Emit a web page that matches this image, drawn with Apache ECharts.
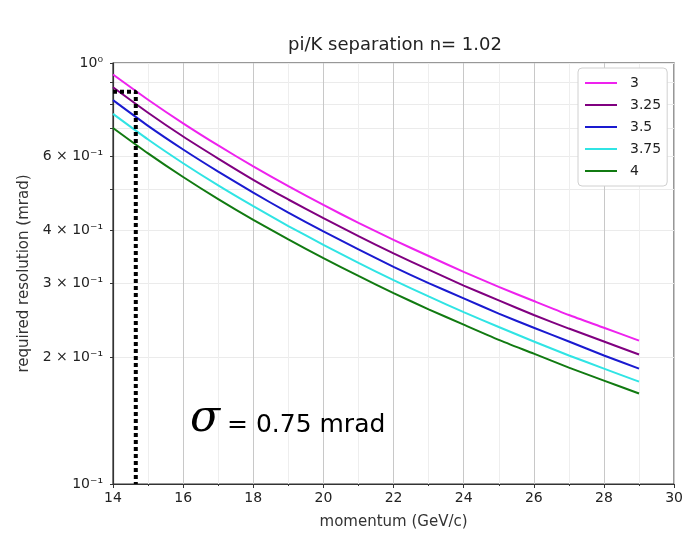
<!DOCTYPE html>
<html>
<head>
<meta charset="utf-8">
<script src="https://cdn.jsdelivr.net/npm/echarts@6/dist/echarts.min.js"></script>
<style>html,body{margin:0;padding:0;background:#fff;}#chart{width:686px;height:535px;}</style>
</head>
<body>
<div id="chart"></div>
<script>
const titleText = 'pi/K separation n= 1.02';
const xName = 'momentum (GeV/c)';
const yName = 'required resolution (mrad)';
const momentum = [14, 15, 16, 17, 18, 19, 20, 21, 22, 23, 24, 25, 26, 27, 28, 29];
const seriesNames = ['3', '3.25', '3.5', '3.75', '4'];
const res3    = [0.939, 0.818, 0.719, 0.637, 0.568, 0.510, 0.460, 0.417, 0.380, 0.348, 0.319, 0.294, 0.272, 0.252, 0.235, 0.219];
const res325  = [0.876, 0.762, 0.669, 0.593, 0.528, 0.474, 0.428, 0.388, 0.353, 0.323, 0.296, 0.273, 0.252, 0.234, 0.218, 0.203];
const res35   = [0.816, 0.709, 0.623, 0.552, 0.492, 0.441, 0.398, 0.361, 0.328, 0.300, 0.276, 0.254, 0.235, 0.218, 0.202, 0.188];
const res375  = [0.757, 0.658, 0.578, 0.512, 0.457, 0.410, 0.370, 0.335, 0.305, 0.279, 0.256, 0.236, 0.218, 0.202, 0.188, 0.175];
const res4    = [0.701, 0.610, 0.536, 0.475, 0.424, 0.381, 0.344, 0.312, 0.284, 0.260, 0.239, 0.220, 0.204, 0.189, 0.176, 0.164];
const dottedX = [14, 14.65, 14.65];
const dottedY = [0.854, 0.854, 0.1];
const yTickValues = [0.1, 0.2, 0.3, 0.4, 0.5, 0.6, 0.7, 0.8, 0.9, 1];
const yLabelValues = [0.1, 0.2, 0.3, 0.4, 0.6, 1];
const yLabelTexts = {1: '10\u207B\u00B9', 2: '2 \u00D7 10\u207B\u00B9', 3: '3 \u00D7 10\u207B\u00B9', 4: '4 \u00D7 10\u207B\u00B9', 6: '6 \u00D7 10\u207B\u00B9', 10: '10\u2070'};
const annotationSigma = '\u03C3';
const annotationRest = '= 0.75 mrad';

const colors = ['#ee22ee', '#800080', '#1a1ad0', '#30e4e4', '#117a11'];
const allRes = [res3, res325, res35, res375, res4];

const chart = echarts.init(document.getElementById('chart'), null, {renderer: 'canvas'});
const FONT = 'DejaVu Sans';

const series = seriesNames.map((name, i) => ({
  name: name,
  type: 'line',
  data: momentum.map((p, j) => [p, allRes[i][j]]),
  showSymbol: false,
  smooth: 0.2,
  lineStyle: {color: colors[i], width: 2},
  itemStyle: {color: colors[i]},
  z: 3
}));
series.push({
  name: 'marker',
  type: 'line',
  data: dottedX.map((x, j) => [x, dottedY[j]]),
  showSymbol: false,
  lineStyle: {color: '#000', width: 4, type: [4, 3]},
  z: 4,
  silent: true
});

chart.setOption({
  animation: false,
  backgroundColor: '#fff',
  textStyle: {fontFamily: FONT},
  grid: {left: 113, right: 9, top: 63, bottom: 50, show: true, borderColor: '#333', borderWidth: 1.2, backgroundColor: 'transparent'},
  legend: {
    data: seriesNames,
    orient: 'vertical',
    left: 578, top: 68,
    padding: [8, 6, 8, 7],
    icon: 'rect', itemWidth: 32, itemHeight: 2, itemGap: 8,
    backgroundColor: '#fff', borderColor: '#d0d0d0', borderWidth: 1, borderRadius: 4,
    textStyle: {fontFamily: FONT, fontSize: 14, color: '#222', lineHeight: 14, padding: [0, 0, 0, 8]}
  },
  xAxis: {
    type: 'value', min: 14, max: 30, interval: 2,
    name: xName, nameLocation: 'middle', nameGap: 31,
    nameTextStyle: {fontFamily: FONT, fontSize: 15, color: '#333'},
    axisLine: {show: true, lineStyle: {color: '#333', width: 1.2}},
    axisTick: {show: true, length: 4, lineStyle: {color: '#333'}},
    minorTick: {show: true, splitNumber: 2, length: 2, lineStyle: {color: '#333'}},
    axisLabel: {fontFamily: FONT, fontSize: 14, color: '#222', margin: 7},
    splitLine: {show: true, lineStyle: {color: '#c8c8c8', width: 1}},
    minorSplitLine: {show: true, lineStyle: {color: '#eeeeee', width: 1}}
  },
  yAxis: {
    type: 'log', logBase: 10, min: 0.1, max: 1,
    name: yName, nameLocation: 'middle', nameGap: 79,
    nameTextStyle: {fontFamily: FONT, fontSize: 15, color: '#333'},
    axisLine: {show: true, lineStyle: {color: '#333', width: 1.2}},
    axisTick: {show: true, length: 3, customValues: yTickValues, lineStyle: {color: '#333'}},
    axisLabel: {
      fontFamily: FONT, fontSize: 14, color: '#222', margin: 10,
      customValues: yLabelValues,
      formatter: function (v) { return yLabelTexts[Math.round(v * 10)] || ''; }
    },
    splitLine: {show: true, lineStyle: {color: '#ebebeb', width: 1}}
  },
  graphic: [
    {type: 'text', x: 395, y: 45, style: {text: titleText, fontFamily: FONT, fontSize: 18, fill: '#222', align: 'center', verticalAlign: 'middle'}, z: 10},
    {type: 'text', x: 190, y: 420, style: {text: annotationSigma, fontFamily: 'DejaVu Serif', fontStyle: 'italic', fontSize: 44, fill: '#000', align: 'left', verticalAlign: 'middle'}, z: 10},
    {type: 'text', x: 227, y: 425, style: {text: annotationRest, fontFamily: FONT, fontSize: 25, fill: '#000', align: 'left', verticalAlign: 'middle'}, z: 10}
  ],
  series: series
});
</script>
</body>
</html>
